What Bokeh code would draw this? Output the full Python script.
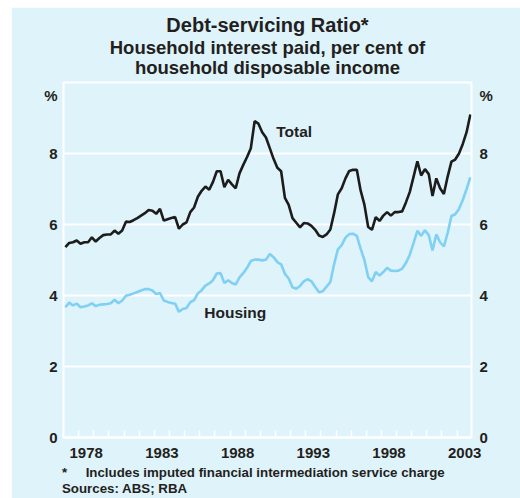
from bokeh.plotting import figure
from bokeh.models import Range1d, FixedTicker, CustomJSTickFormatter, Label, LinearAxis, Title
from bokeh.embed import file_html
from bokeh.resources import INLINE

# ---- data (quarterly, per cent of household disposable income) ----
start_year = 1977
total = [5.36, 5.48, 5.50, 5.55, 5.46, 5.50, 5.50, 5.64, 5.52, 5.62,
         5.70, 5.72, 5.72, 5.83, 5.74, 5.83, 6.08, 6.07, 6.12, 6.18,
         6.25, 6.32, 6.41, 6.39, 6.30, 6.44, 6.11, 6.15, 6.18, 6.21,
         5.88, 6.00, 6.06, 6.35, 6.48, 6.78, 6.95, 7.07, 6.98, 7.20,
         7.50, 7.50, 7.05, 7.26, 7.13, 7.02, 7.44, 7.68, 7.90, 8.15,
         8.91, 8.84, 8.60, 8.45, 8.15, 7.85, 7.60, 7.50, 6.75, 6.55,
         6.18, 6.05, 5.92, 6.04, 6.03, 5.96, 5.85, 5.69, 5.65, 5.72,
         5.86, 6.32, 6.85, 7.02, 7.30, 7.51, 7.54, 7.54, 6.96, 6.56,
         5.93, 5.85, 6.21, 6.10, 6.25, 6.35, 6.25, 6.35, 6.35, 6.37,
         6.63, 6.92, 7.35, 7.78, 7.38, 7.56, 7.42, 6.80, 7.30, 7.02,
         6.86, 7.35, 7.77, 7.83, 8.00, 8.27, 8.60, 9.10]
housing = [3.67, 3.80, 3.72, 3.77, 3.67, 3.69, 3.72, 3.78, 3.70, 3.74,
           3.75, 3.76, 3.78, 3.88, 3.78, 3.86, 3.99, 4.02, 4.06, 4.10,
           4.14, 4.18, 4.18, 4.14, 4.04, 4.07, 3.86, 3.82, 3.79, 3.77,
           3.54, 3.62, 3.65, 3.81, 3.87, 4.06, 4.15, 4.28, 4.34, 4.43,
           4.62, 4.63, 4.35, 4.43, 4.35, 4.31, 4.51, 4.63, 4.78, 4.97,
           5.01, 5.01, 4.99, 5.01, 5.17, 5.08, 4.94, 4.88, 4.61, 4.48,
           4.23, 4.19, 4.27, 4.40, 4.46, 4.40, 4.24, 4.09, 4.12, 4.25,
           4.38, 4.88, 5.30, 5.42, 5.63, 5.73, 5.74, 5.68, 5.32, 5.00,
           4.52, 4.40, 4.66, 4.56, 4.66, 4.78, 4.70, 4.69, 4.70, 4.76,
           4.92, 5.15, 5.48, 5.82, 5.68, 5.84, 5.70, 5.27, 5.72, 5.50,
           5.38, 5.76, 6.24, 6.29, 6.44, 6.69, 7.00, 7.33]
quarters = [start_year + 0.125 + 0.25 * i for i in range(len(total))]
year_labels = [1978, 1983, 1988, 1993, 1998, 2003]
year_ticks = list(range(1978, 2004))
y_ticks = [0, 2, 4, 6, 8]
unit_tick = 9.63          # position of the "%" unit label
grid_ticks = [2, 4, 6, 8]

BG = "#dff3fb"
TXT = "#231f20"
FONT = "Liberation Sans"

p = figure(width=509, height=491, output_backend="svg", toolbar_location=None,
           x_range=Range1d(1977, 2003.95), y_range=Range1d(0, 10),
           min_border_left=52, min_border_right=49, min_border_top=75, min_border_bottom=61,
           background_fill_color=BG, border_fill_color=BG,
           outline_line_color="white", outline_line_width=2)
p.margin = (7, 0, 0, 11)

p.line(quarters, housing, line_color="#7fd0f3", line_width=2.6)
p.line(quarters, total, line_color="#1c1c1c", line_width=2.6)

# grids
p.xgrid.grid_line_color = None
p.ygrid.ticker = FixedTicker(ticks=grid_ticks)
p.ygrid.grid_line_color = "white"
p.ygrid.grid_line_width = 2

# bottom axis
xa = p.xaxis[0]
xa.ticker = FixedTicker(ticks=[y + 0.5 for y in year_labels], minor_ticks=year_ticks)
xa.formatter = CustomJSTickFormatter(code="return String(Math.floor(tick));")
xa.major_tick_line_color = None
xa.major_tick_in = 0
xa.major_tick_out = 0
xa.minor_tick_in = 7
xa.minor_tick_out = 0
xa.minor_tick_line_color = "white"
xa.minor_tick_line_width = 1.5
xa.axis_line_color = "white"
xa.axis_line_width = 2
xa.major_label_standoff = 10

def style_y(ax, standoff):
    ax.ticker = FixedTicker(ticks=y_ticks + [unit_tick])
    ax.formatter = CustomJSTickFormatter(code="return tick > 9 ? '%' : String(tick);")
    ax.major_tick_line_color = None
    ax.minor_tick_line_color = None
    ax.major_tick_in = 0
    ax.major_tick_out = 0
    ax.axis_line_color = None
    ax.major_label_standoff = standoff

style_y(p.yaxis[0], 6)
ra = LinearAxis()
style_y(ra, 8)
p.add_layout(ra, "right")

for ax in [xa, p.yaxis[0], ra]:
    ax.major_label_text_font = FONT
    ax.major_label_text_font_style = "bold"
    ax.major_label_text_font_size = "15px"
    ax.major_label_text_color = TXT

def title(text, size, side, align="center", offset=0, standoff=0, valign="middle"):
    p.add_layout(Title(text=text, text_font=FONT, text_font_style="bold",
                       text_font_size=size, text_color=TXT, align=align,
                       offset=offset, standoff=standoff, vertical_align=valign), side)

# above: first added sits nearest the plot
title("household disposable income", "18.5px", "above", standoff=7.5)
title("Household interest paid, per cent of", "18.5px", "above", standoff=-14.9)
title("Debt-servicing Ratio*", "20px", "above", standoff=12, valign="top")
# below: first added sits nearest the plot (after the axis)
title("*\u00a0\u00a0\u00a0\u00a0\u00a0Includes imputed financial intermediation service charge",
      "13.3px", "below", align="left", offset=-1.5, standoff=6.1)
title("Sources: ABS; RBA", "13.3px", "below", align="left", offset=-1.5, standoff=-7.9)

def lab(x, y, text, size):
    p.add_layout(Label(x=x, y=y, text=text, text_font=FONT, text_font_style="bold",
                       text_font_size=size, text_color=TXT, text_align="left",
                       text_baseline="middle"))

lab(1991.05, 8.63, "Total", "15.5px")
lab(1986.30, 3.535, "Housing", "15.5px")

open("out.html", "w").write(file_html(p, INLINE))
